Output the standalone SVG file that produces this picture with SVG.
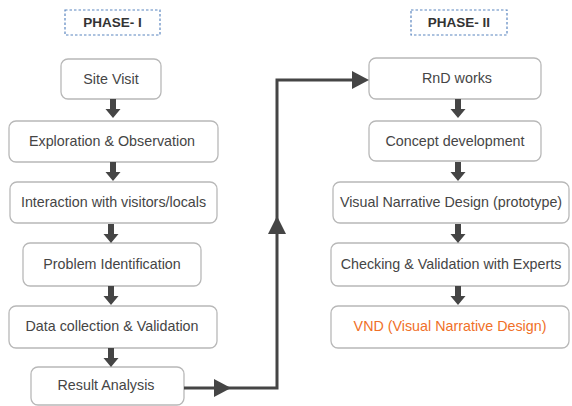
<svg xmlns="http://www.w3.org/2000/svg" width="572" height="406" viewBox="0 0 572 406">
<defs>
<style>
.box{fill:#fff;stroke:#b8b8b8;stroke-width:1.3}
.t{font-family:"Liberation Sans",Arial,sans-serif;font-size:14.3px;fill:#454545;text-anchor:middle}
.ph{font-family:"Liberation Sans",Arial,sans-serif;font-size:13.5px;font-weight:bold;fill:#333;text-anchor:middle}
.phb{fill:#fff;stroke:#5b86c0;stroke-width:1.2;stroke-dasharray:2.5 2}
.da{fill:#454545}
.ln{fill:none;stroke:#454545;stroke-width:3}
</style>
<path id="dn" d="M-3,0 H3 V10 H7.5 L0,19 L-7.5,10 H-3 Z"/>
</defs>
<rect width="572" height="406" fill="#fff"/>
<g id="phase1"><rect class="phb" x="65" y="10" width="95" height="25"/><text class="ph" x="112.5" y="27">PHASE- I</text></g>
<g id="phase2"><rect class="phb" x="411" y="10" width="96" height="25"/><text class="ph" x="459" y="27">PHASE- II</text></g>

<g id="n1"><rect class="box" x="61" y="59" width="100" height="40" rx="7"/><text class="t" x="111" y="84">Site Visit</text></g>
<g id="n2"><rect class="box" x="9" y="121" width="209" height="41" rx="7"/><text class="t" x="112" y="146">Exploration &amp; Observation</text></g>
<g id="n3"><rect class="box" x="10" y="182" width="207" height="41" rx="7"/><text class="t" x="113.5" y="207">Interaction with visitors/locals</text></g>
<g id="n4"><rect class="box" x="23" y="243" width="178" height="43" rx="7"/><text class="t" x="112" y="269">Problem Identification</text></g>
<g id="n5"><rect class="box" x="9" y="306" width="208" height="42" rx="7"/><text class="t" x="112" y="331">Data collection &amp; Validation</text></g>
<g id="n6"><rect class="box" x="31" y="367" width="153" height="38" rx="7"/><text class="t" x="106" y="390">Result  Analysis</text></g>

<g id="m1"><rect class="box" x="369" y="58" width="172" height="41" rx="7"/><text class="t" x="457" y="83">RnD works</text></g>
<g id="m2"><rect class="box" x="369" y="121" width="172" height="40" rx="7"/><text class="t" x="455" y="146">Concept development</text></g>
<g id="m3"><rect class="box" x="333" y="182" width="236" height="41" rx="7"/><text class="t" x="451" y="207">Visual Narrative Design (prototype)</text></g>
<g id="m4"><rect class="box" x="331" y="243" width="238" height="43" rx="7"/><text class="t" x="451" y="269">Checking &amp; Validation with Experts</text></g>
<g id="m5"><rect class="box" x="331" y="306" width="238" height="42" rx="7"/><text class="t" x="450" y="331" style="fill:#f07028">VND (Visual Narrative Design)</text></g>

<g id="connectors">
<use href="#dn" class="da" x="113" y="99"/>
<use href="#dn" class="da" x="113" y="162"/>
<use href="#dn" class="da" x="111" y="224"/>
<use href="#dn" class="da" x="111" y="286"/>
<use href="#dn" class="da" x="111" y="348"/>
<use href="#dn" class="da" x="458" y="99"/>
<use href="#dn" class="da" x="458" y="162"/>
<use href="#dn" class="da" x="458" y="224"/>
<use href="#dn" class="da" x="458" y="286"/>
<path class="ln" d="M184,388 H277 V80 H355"/>
<path class="da" d="M214,379 L231,388 L214,397 Z"/>
<path class="da" d="M268,234 L277,216 L286,234 Z"/>
<path class="da" d="M352,71 L369,80 L352,89 Z"/>
</g>
</svg>
